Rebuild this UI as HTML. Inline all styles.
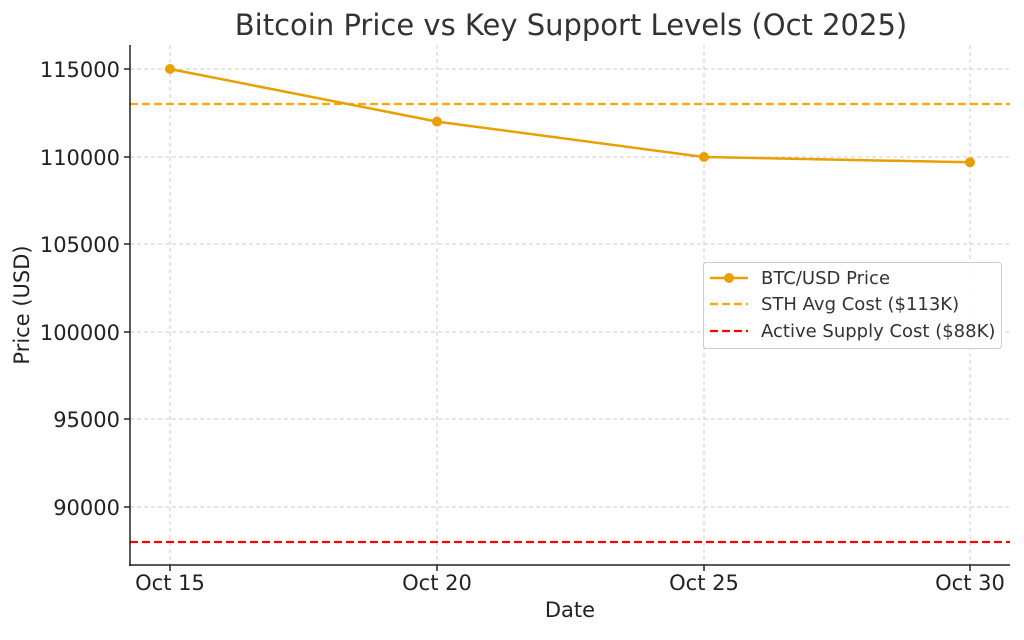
<!DOCTYPE html>
<html><head><meta charset="utf-8"><style>html,body{margin:0;padding:0;background:#fff}</style></head>
<body>
<svg width="1024" height="635" xmlns="http://www.w3.org/2000/svg" font-family="DejaVu Sans, Liberation Sans, sans-serif" fill="#333">
<rect width="1024" height="635" fill="#fff"/>
<text x="571" y="35" font-size="29" text-anchor="middle" fill="#333">Bitcoin Price vs Key Support Levels (Oct 2025)</text>
<g stroke="#ccc" stroke-width="1" stroke-dasharray="4,3">
<line x1="130" x2="1010" y1="69" y2="69"/><line x1="130" x2="1010" y1="157" y2="157"/>
<line x1="130" x2="1010" y1="244" y2="244"/><line x1="130" x2="1010" y1="332" y2="332"/>
<line x1="130" x2="1010" y1="419" y2="419"/><line x1="130" x2="1010" y1="507" y2="507"/>
<line x1="170" x2="170" y1="45" y2="565"/><line x1="437" x2="437" y1="45" y2="565"/>
<line x1="704" x2="704" y1="45" y2="565"/><line x1="970" x2="970" y1="45" y2="565"/>
</g>
<line x1="130" x2="1010" y1="104" y2="104" stroke="#ffa500" stroke-width="2.2" stroke-dasharray="8,4"/>
<line x1="130" x2="1010" y1="542" y2="542" stroke="#f00" stroke-width="2.2" stroke-dasharray="8,4"/>
<polyline points="170,69 437,121.6 704,157 970,162.3" fill="none" stroke="#e8a000" stroke-width="2.5"/>
<g fill="#e8a000"><circle cx="170" cy="69" r="5"/><circle cx="437" cy="121.6" r="5"/><circle cx="704" cy="157" r="5"/><circle cx="970" cy="162.3" r="5"/></g>
<g stroke="#222" stroke-width="1.5"><line x1="130" x2="130" y1="45" y2="566"/><line x1="129" x2="1010" y1="565" y2="565"/>
<line x1="124" x2="130" y1="69" y2="69"/><line x1="124" x2="130" y1="157" y2="157"/><line x1="124" x2="130" y1="244" y2="244"/><line x1="124" x2="130" y1="332" y2="332"/><line x1="124" x2="130" y1="419" y2="419"/><line x1="124" x2="130" y1="507" y2="507"/>
<line x1="170" x2="170" y1="565" y2="571"/><line x1="437" x2="437" y1="565" y2="571"/><line x1="704" x2="704" y1="565" y2="571"/><line x1="970" x2="970" y1="565" y2="571"/></g>
<g font-size="21" text-anchor="end" fill="#222">
<text x="120" y="77">115000</text><text x="120" y="165">110000</text><text x="120" y="252">105000</text><text x="120" y="340">100000</text><text x="120" y="427">95000</text><text x="120" y="515">90000</text></g>
<g font-size="21" text-anchor="middle" fill="#222">
<text x="170" y="590">Oct 15</text><text x="437" y="590">Oct 20</text><text x="704" y="590">Oct 25</text><text x="970" y="590">Oct 30</text>
<text x="570" y="617">Date</text>
<text transform="translate(29,305) rotate(-90)">Price (USD)</text></g>
<rect x="703.5" y="262.5" width="298" height="86" rx="3" fill="#fff" fill-opacity="0.85" stroke="#ccc"/>
<line x1="710" x2="748" y1="278" y2="278" stroke="#e8a000" stroke-width="2.5"/><circle cx="729" cy="278" r="5" fill="#e8a000"/>
<line x1="710" x2="748" y1="304" y2="304" stroke="#ffa500" stroke-width="2.2" stroke-dasharray="8,4"/>
<line x1="710" x2="748" y1="331" y2="331" stroke="#f00" stroke-width="2.2" stroke-dasharray="8,4"/>
<g font-size="18" fill="#333"><text x="761" y="284">BTC/USD Price</text><text x="761" y="310">STH Avg Cost ($113K)</text><text x="761" y="337">Active Supply Cost ($88K)</text></g>
</svg>
</body></html>
